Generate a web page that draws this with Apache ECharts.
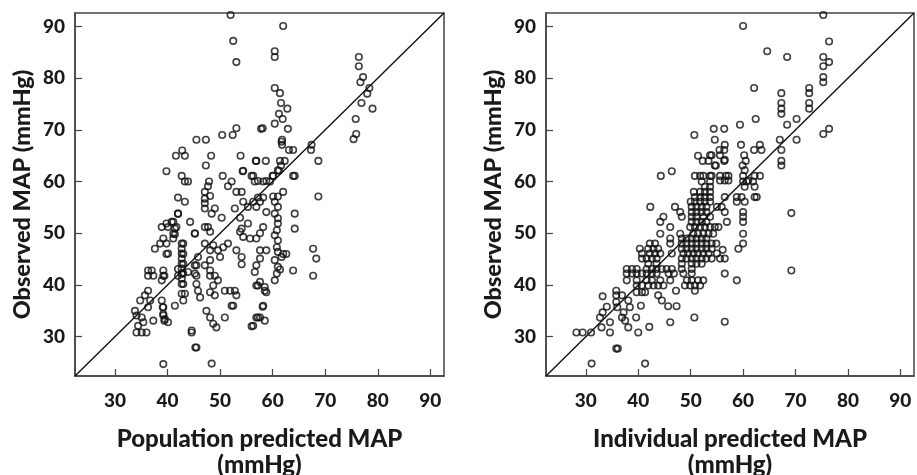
<!DOCTYPE html>
<html>
<head>
<meta charset="utf-8">
<script src="https://cdn.jsdelivr.net/npm/echarts@6/dist/echarts.min.js"></script>
<style>
html,body{margin:0;padding:0;background:#fff;}
#chart{width:917px;height:475px;}
</style>
</head>
<body>
<div id="chart"></div>
<script>
// ---- Data ----
const axisMin = 22.4;
const axisMax = 92.6;
const tickValues = [30, 40, 50, 60, 70, 80, 90];
const xTitles = ['Population predicted MAP\n(mmHg)', 'Individual predicted MAP\n(mmHg)'];
const yTitle = 'Observed MAP (mmHg)';

// [predicted, observed] for population predictions
const populationPoints = [
[52.0,92.2],[52.5,87.2],[53.1,83.1],[53.1,70.3],[52.4,69.0],[50.4,69.0],[47.3,68.1],[45.5,68.1],[42.8,66.0],[41.6,65.0],[43.3,65.0],[48.3,65.0],[53.9,65.0],[56.8,64.0],[47.3,63.1],[39.8,62.0],[42.7,61.1],[50.5,61.1],[54.3,62.0],[56.0,61.1],[43.3,60.0],[43.9,60.0],[47.9,60.0],[52.2,60.0],[56.6,60.0],
[62.0,90.1],[60.4,85.2],[60.4,84.1],[76.4,84.1],[76.4,82.3],[77.2,80.2],[76.7,79.2],[78.4,78.1],[78.0,77.0],[76.9,75.2],[79.0,74.1],[75.8,72.1],[75.9,69.2],[75.4,68.2],
[60.4,78.1],[61.4,77.1],[61.6,75.2],[62.8,74.1],[61.2,73.1],[61.9,72.1],[60.4,71.2],[58.1,70.3],[62.9,70.2],[61.8,68.1],[61.8,67.1],[63.1,66.1],[63.9,66.1],[67.4,67.1],[67.3,66.1],[68.7,64.0],[56.9,64.0],[58.7,64.0],[61.4,64.0],[62.3,64.0],[61.6,63.1],[61.2,62.1],[63.9,61.1],[60.0,61.1],[56.3,61.1],[58.2,60.0],[59.5,60.0],
[57.8,70.2],[61.7,67.7],[54.4,62.1],[61.0,62.2],[47.7,59.1],[51.5,59.1],[57.2,60.1],[58.8,60.1],[60.1,61.1],[64.2,61.1],
[53.1,58.0],[54.1,58.0],[62.0,58.0],[47.1,58.0],[48.1,57.2],[47.1,56.7],[47.1,55.8],[47.1,54.8],[49.0,54.8],[48.4,53.8],[42.0,56.9],[43.3,56.1],[42.0,53.8],[50.3,53.0],[52.8,54.8],[53.8,53.0],[54.4,56.1],[55.3,55.1],[56.3,56.1],[57.2,56.9],[58.2,56.9],[57.6,56.1],[56.9,55.1],[58.8,54.1],[60.1,57.1],[61.0,57.1],[60.4,56.1],[61.0,55.1],[60.4,53.8],[61.0,52.9],[61.0,51.9],[60.8,50.6],[60.4,49.6],[61.0,48.6],[60.8,47.3],[61.0,46.4],[61.7,45.4],[60.4,44.8],[61.0,43.5],[60.8,42.2],[60.4,40.9],
[64.2,53.8],[64.2,50.9],[68.7,57.1],[67.7,47.0],[68.3,45.1],[67.7,41.8],[63.9,42.8],[62.6,46.0],[62.0,46.0],[57.6,46.7],[58.8,46.7],[57.6,45.1],[56.9,43.8],[56.6,42.5],[57.6,40.6],[58.5,39.6],[56.9,39.9],[58.8,38.6],
[53.8,50.3],[54.4,49.3],[54.1,50.9],[55.3,51.9],[55.7,49.0],[56.9,49.0],[57.6,50.0],[58.2,51.2],[53.1,46.7],[54.1,45.4],[54.1,44.0],[51.5,48.0],[50.6,47.3],[49.6,46.7],[50.0,45.4],[48.1,46.7],[48.1,44.8],[47.1,43.8],[48.1,42.8],[48.1,41.8],[49.0,41.8],[49.6,40.9],[48.7,39.9],[48.1,38.6],[49.0,38.0],[50.9,38.9],[51.9,38.9],[52.8,38.9],[53.1,38.0],
[45.8,45.4],[45.5,43.8],[45.2,42.2],[45.5,40.2],[45.8,38.9],[46.2,37.6],[47.4,35.0],[48.1,33.7],[48.7,32.5],[49.3,31.8],[50.9,33.7],[52.2,36.0],[44.6,30.8],[56.3,32.1],[57.6,33.7],[58.5,33.1],[58.2,36.0],
[42.7,48.0],[42.7,47.0],[42.7,46.1],[42.7,45.1],[42.7,44.1],[42.7,43.2],[42.7,42.2],[42.7,41.2],[42.7,40.2],[43.0,48.0],[43.0,46.0],[43.0,44.1],[43.0,42.2],[43.0,40.2],
[39.8,48.0],[39.8,46.0],[39.4,41.8],[38.9,37.0],[39.1,35.7],[39.2,34.1],[39.4,33.1],[41.4,36.0],[43.3,38.3],[43.0,37.0],[38.9,51.2],[39.8,51.9],[41.1,52.2],[41.4,50.9],[41.4,49.8],[44.3,52.2],[45.2,50.0],[47.1,51.2],[47.7,51.2],[48.1,50.3],[47.1,48.0],[48.7,47.7],
[42.0,53.8],[40.8,52.2],[40.1,51.2],[41.7,51.2],[41.1,49.9],[41.1,49.0],[45.2,49.9],[39.2,49.0],[38.6,48.0],[37.6,47.0],[40.1,46.1],[42.0,43.1],[42.0,41.8],[36.3,42.8],[37.0,42.8],[36.3,41.8],[37.3,41.8],[39.2,42.8],[39.2,41.8],[38.9,40.9],[43.9,42.5],[45.2,43.8],[45.5,41.8],
[36.3,38.9],[35.7,38.0],[34.8,37.0],[36.7,37.0],[36.3,35.7],[33.8,35.0],[34.1,34.1],[35.1,33.7],[35.4,32.8],[34.4,32.1],[34.1,30.8],[35.1,30.8],[36.0,30.8],[37.3,33.1],[39.2,35.7],[39.2,34.4],[39.5,33.4],[40.1,32.8],[42.7,38.3],[44.6,31.2],[45.5,27.9],[45.3,27.9],[39.2,24.7],[48.4,24.8],
[52.5,36.0],[56.0,32.0],[56.9,33.7],[58.1,35.8],[57.2,33.7],[61.4,43.0],[58.5,38.9],[57.2,39.9]
];

// [predicted, observed] for individual predictions
const individualPoints = [
[75.3,92.2],[60.0,90.1],[76.4,87.1],[64.6,85.2],[68.4,84.1],[75.3,84.1],[76.4,83.1],[75.3,82.3],[75.3,80.2],[75.3,79.2],[62.1,78.1],[72.6,78.1],[72.6,77.1],[67.3,77.1],[72.6,75.2],[72.6,74.1],[67.3,75.2],[67.3,74.1],[67.3,73.1],[62.4,72.1],[70.2,72.1],[68.4,71.0],[59.4,71.0],[54.4,70.2],[56.4,70.2],[76.4,70.2],[75.3,69.2],[54.6,68.1],[67.0,68.1],[70.2,68.1],[56.5,67.1],[59.6,67.1],[63.2,67.1],[55.5,66.1],[62.1,66.1],[63.5,66.1],[67.3,66.1],[54.0,65.1],[56.4,66.1],[60.2,65.1],[67.3,64.0],[67.3,63.1],[54.8,63.1],[56.4,64.0],[59.9,63.1],[60.5,64.0],[54.0,61.1],[55.6,61.1],[56.7,61.1],[60.0,61.1],[60.7,60.0],[62.2,61.1],[63.2,61.1],[61.9,60.0],[60.0,60.0],
[50.7,69.0],[51.4,65.0],[52.3,64.0],[53.4,64.0],[54.6,63.1],[44.3,61.1],[46.4,62.0],[50.8,61.1],[52.4,61.1],[52.1,60.0],[53.7,60.0],
[55.6,65.1],[53.7,65.1],[56.5,64.2],[60.3,62.2],[51.8,61.1],[53.7,61.1],[57.2,61.1],[55.6,60.2],[56.5,60.2],[57.2,60.2],[61.0,60.2],
[52.7,59.0],[53.7,59.0],[60.3,59.0],[62.2,59.0],
[50.6,58.0],[51.8,58.0],[52.7,58.0],[53.7,58.0],
[50.8,57.0],[51.8,57.0],[52.7,57.0],[53.7,57.0],[56.5,57.0],[58.8,57.0],[59.7,57.0],[62.2,57.0],[62.6,57.0],
[50.0,56.1],[50.8,56.1],[51.8,56.1],[52.7,56.1],[53.7,56.1],[58.8,56.1],[60.3,56.1],
[42.3,55.1],[47.0,55.1],[50.2,55.1],[51.1,55.1],[52.1,55.1],[53.0,55.1],[55.0,55.1],[55.9,55.1],
[48.0,54.1],[50.2,54.1],[51.1,54.1],[52.1,54.1],[53.0,54.1],[56.5,54.1],[60.0,54.1],
[44.8,53.2],[48.3,53.2],[50.2,53.2],[51.1,53.2],[52.4,53.2],[53.7,53.2],[60.0,53.2],
[44.2,52.2],[50.2,52.2],[51.1,52.2],[52.1,52.2],[53.0,52.2],[56.9,52.2],[60.0,52.2],
[46.1,51.2],[49.9,51.2],[50.8,51.2],[51.8,51.2],[52.7,51.2],[53.7,51.2],[54.6,51.2],[55.3,51.2],
[44.2,49.9],[48.0,49.9],[50.5,49.9],[51.4,49.9],[52.4,49.9],[53.4,49.9],[54.3,49.9],[60.0,49.9],
[46.1,49.0],[48.3,49.0],[49.2,49.0],[50.2,49.0],[51.1,49.0],[52.1,49.0],[53.0,49.0],
[42.2,48.0],[43.2,48.0],[46.1,48.0],[48.3,48.0],[49.2,48.0],[50.2,48.0],[51.1,48.0],[52.1,48.0],[53.0,48.0],[54.0,48.0],[54.9,48.0],[60.0,48.0],
[40.3,47.0],[41.9,47.0],[42.9,47.0],[43.8,47.0],[48.3,47.0],[49.2,47.0],[50.2,47.0],[51.1,47.0],[52.1,47.0],[53.0,47.0],[54.0,47.0],[59.1,47.0],[56.1,46.8],
[40.7,46.1],[42.2,46.1],[43.2,46.1],[44.2,46.1],[46.4,46.1],[48.6,46.1],[49.5,46.1],[50.5,46.1],[51.4,46.1],[52.4,46.1],[53.4,46.1],[55.0,46.1],
[40.7,45.1],[41.6,45.1],[42.6,45.1],[43.5,45.1],[48.3,45.1],[49.2,45.1],[50.2,45.1],[51.1,45.1],[52.1,45.1],[53.0,45.1],[54.0,45.1],[55.6,45.1],[56.5,45.1],
[41.9,44.1],[43.5,44.1],[48.3,44.1],[50.2,44.1],[51.1,44.1],[52.1,44.1],
[37.8,43.1],[38.8,43.1],[39.7,43.1],[41.6,43.1],[42.6,43.1],[43.5,43.1],[44.5,43.1],[45.4,43.1],[46.4,43.1],[48.3,43.1],[50.2,43.1],
[37.8,42.2],[38.8,42.2],[39.7,42.2],[40.7,42.2],[41.6,42.2],[42.6,42.2],[43.5,42.2],[45.8,42.2],[46.8,42.2],[48.6,42.2],[50.2,42.2],[56.5,42.2],
[58.8,40.9],[37.8,40.9],[39.7,40.9],[41.6,40.9],[42.6,40.9],[44.2,40.9],[46.1,40.9],[49.3,40.9],[50.2,40.9],[51.4,40.9],[52.4,40.9],
[39.7,39.9],[40.7,39.9],[41.9,39.9],[42.9,39.9],[43.8,39.9],[44.8,39.9],[48.9,39.9],[49.9,39.9],[50.8,39.9],[51.8,39.9],
[31.1,24.8],[41.3,24.8],[36.1,27.7],[35.8,27.7],[28.2,30.8],[29.4,30.8],[31.0,30.8],[34.6,30.8],[32.7,33.7],[33.0,31.8],[34.6,32.8],[33.2,34.7],[34.0,35.8],[33.2,37.8],[35.8,38.9],[35.8,38.0],[35.8,36.7],[36.9,38.0],[36.0,35.7],[37.2,34.7],[37.5,33.1],[38.1,31.8],[36.9,33.7],[38.4,35.7],[38.1,37.0],
[40.7,38.6],[41.3,38.6],[39.6,33.7],[40.0,30.8],[42.1,31.9],[39.7,38.6],[40.5,36.0],[43.8,38.0],[44.5,37.0],[45.7,35.9],[47.3,35.9],[46.1,32.8],[50.7,33.7],[47.2,38.9],[50.8,38.9],
[69.2,53.9],[69.2,42.8],[56.5,32.9]
];

// ---- Chart ----
const chart = echarts.init(document.getElementById('chart'), null, {renderer: 'canvas'});
const FONT = 'Lato';
const TXT = '#1a1a1a';
const AX = '#444';

function xAxisCfg(i) {
  return {
    gridIndex: i, type: 'value', min: axisMin, max: axisMax,
    name: xTitles[i], nameLocation: 'middle', nameGap: 50,
    nameTextStyle: {fontFamily: FONT, fontWeight: 900, fontSize: 24, color: TXT, lineHeight: 26},
    axisLine: {show: true, onZero: false, lineStyle: {color: AX, width: 1.5}},
    axisTick: {show: true, inside: true, length: 7, customValues: tickValues, lineStyle: {color: AX, width: 1.2}},
    axisLabel: {customValues: tickValues, margin: 15, fontFamily: FONT, fontWeight: 900, fontSize: 19, color: TXT},
    splitLine: {show: false}
  };
}
function yAxisCfg(i) {
  return {
    gridIndex: i, type: 'value', min: axisMin, max: axisMax,
    name: yTitle, nameLocation: 'middle', nameGap: 41,
    nameTextStyle: {fontFamily: FONT, fontWeight: 900, fontSize: 23.5, color: TXT},
    axisLine: {show: true, onZero: false, lineStyle: {color: AX, width: 1.5}},
    axisTick: {show: true, inside: true, length: 7, customValues: tickValues, lineStyle: {color: AX, width: 1.2}},
    axisLabel: {customValues: tickValues, margin: 10, fontFamily: FONT, fontWeight: 900, fontSize: 19, color: TXT},
    splitLine: {show: false}
  };
}
function scatterCfg(i, data) {
  return {
    type: 'scatter', xAxisIndex: i, yAxisIndex: i, data: data,
    symbol: 'circle', symbolSize: 6.5,
    itemStyle: {color: 'rgba(255,255,255,0)', borderColor: '#111', borderWidth: 1.6},
    silent: true
  };
}
function identityCfg(i) {
  return {
    type: 'line', xAxisIndex: i, yAxisIndex: i,
    data: [[axisMin, axisMin], [axisMax, axisMax]],
    symbol: 'none', lineStyle: {color: '#111', width: 1.4}, silent: true, z: 3
  };
}

chart.setOption({
  animation: false,
  backgroundColor: '#fff',
  grid: [
    {left: 75, right: 473, top: 13, bottom: 99, show: true, borderColor: AX, borderWidth: 1.5, containLabel: false, outerBoundsMode: 'none'},
    {left: 546, right: 3, top: 13, bottom: 99, show: true, borderColor: AX, borderWidth: 1.5, containLabel: false, outerBoundsMode: 'none'}
  ],
  xAxis: [xAxisCfg(0), xAxisCfg(1)],
  yAxis: [yAxisCfg(0), yAxisCfg(1)],
  series: [
    scatterCfg(0, populationPoints), identityCfg(0),
    scatterCfg(1, individualPoints), identityCfg(1)
  ]
});
</script>
</body>
</html>
